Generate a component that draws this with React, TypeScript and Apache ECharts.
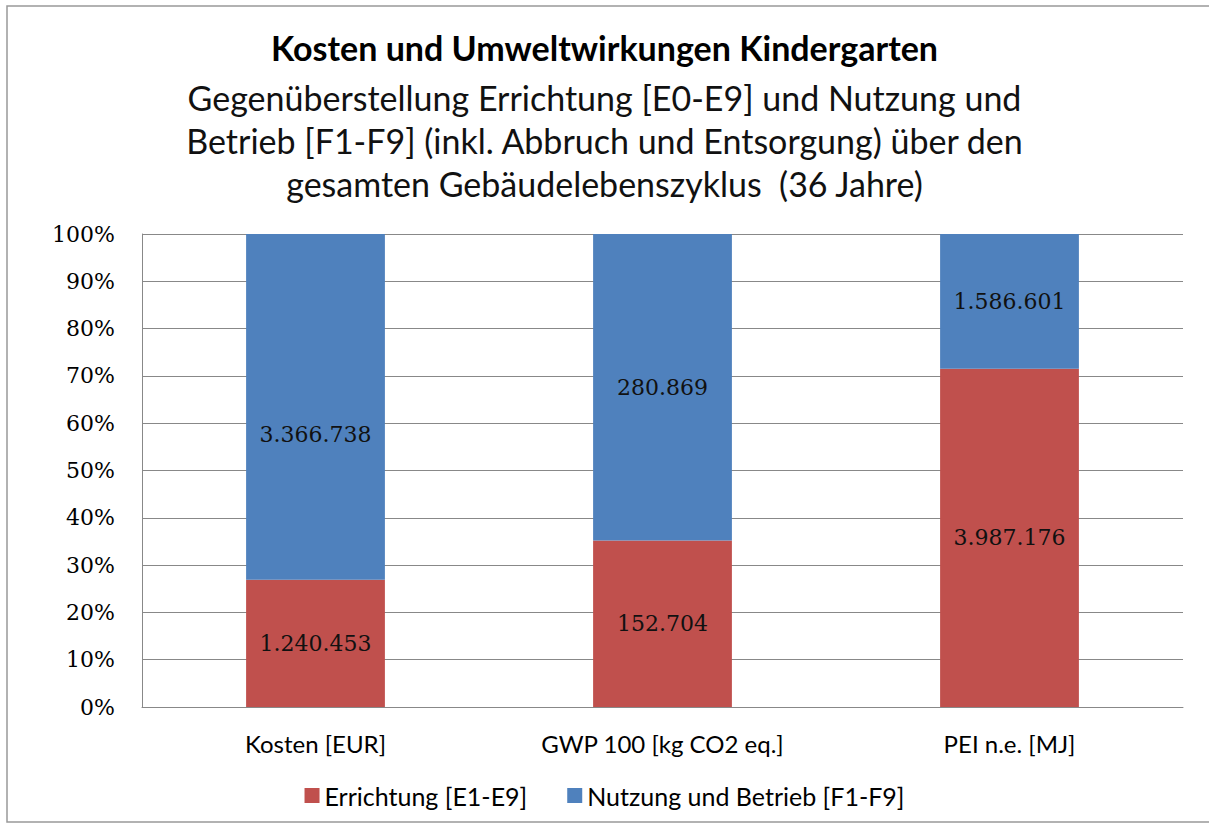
import React, { useEffect, useRef } from "react";
import * as echarts from "echarts";

const categories = ["Kosten [EUR]", "GWP 100 [kg CO2 eq.]", "PEI n.e. [MJ]"];
const errichtung = [1240453, 152704, 3987176];
const nutzung = [3366738, 280869, 1586601];
const seriesNames = ["Errichtung [E1-E9]", "Nutzung und Betrieb [F1-F9]"];
const yTicks = [0, 10, 20, 30, 40, 50, 60, 70, 80, 90, 100];

const titleText = "Kosten und Umweltwirkungen Kindergarten";
const subtitleLines = [
  "Gegenüberstellung Errichtung [E0-E9] und Nutzung und",
  "Betrieb [F1-F9] (inkl. Abbruch und Entsorgung) über den",
  "gesamten Gebäudelebenszyklus  (36 Jahre)",
];

const fmt = (n: number) => String(n).replace(/\B(?=(\d{3})+(?!\d))/g, ".");

export default function App() {
  const ref = useRef<HTMLDivElement>(null);
  useEffect(() => {
    if (!ref.current) return;
    const chart = echarts.init(ref.current, null, { renderer: "svg" });
    const totals = errichtung.map((v, i) => v + nutzung[i]);
    const sansFont = "Lato";
    const serifFont = "DejaVu Serif";
    const labelStyle = {
      show: true,
      position: "inside",
      fontFamily: serifFont,
      fontSize: 22,
      color: "#111",
    };
    chart.setOption({
      animation: false,
      backgroundColor: "#fff",
      title: [
        {
          text: titleText,
          left: "center",
          top: 25,
          textStyle: { fontFamily: sansFont, fontSize: 34, fontWeight: "bold", color: "#000" },
        },
        {
          text: subtitleLines.join("\n"),
          left: "center",
          top: 71,
          textStyle: { fontFamily: sansFont, fontSize: 34, fontWeight: "normal", color: "#111", lineHeight: 43 },
        },
      ],
      graphic: [
        {
          type: "rect",
          shape: { x: 7, y: 6, width: 1215, height: 816 },
          style: { fill: "none", stroke: "#999", lineWidth: 1.5 },
          silent: true,
        },
      ],
      legend: {
        bottom: 17,
        left: "center",
        itemWidth: 15,
        itemHeight: 15,
        itemGap: 40,
        icon: "rect",
        textStyle: { fontFamily: sansFont, fontSize: 25, color: "#000" },
        data: seriesNames,
      },
      grid: { left: 142, right: 26, top: 234, bottom: 123 },
      xAxis: {
        type: "category",
        data: categories,
        axisLine: { show: true, lineStyle: { color: "#888" } },
        axisTick: { show: false },
        axisLabel: { fontFamily: sansFont, fontSize: 24, color: "#000", margin: 24 },
      },
      yAxis: {
        type: "value",
        min: 0,
        max: 100,
        interval: 10,
        axisLine: { show: true, lineStyle: { color: "#888" } },
        axisTick: { show: false },
        splitLine: { show: true, lineStyle: { color: "#888", width: 1 } },
        axisLabel: {
          fontFamily: serifFont,
          fontSize: 22,
          color: "#000",
          margin: 27,
          formatter: (v: number) => (yTicks.includes(v) ? v + "%" : ""),
        },
      },
      series: [
        {
          name: seriesNames[0],
          type: "bar",
          stack: "total",
          barWidth: "40%",
          itemStyle: { color: "#C0504D" },
          data: errichtung.map((v, i) => ({ value: (v / totals[i]) * 100 })),
          label: { ...labelStyle, formatter: (p: any) => fmt(errichtung[p.dataIndex]) },
        },
        {
          name: seriesNames[1],
          type: "bar",
          stack: "total",
          barWidth: "40%",
          itemStyle: { color: "#4F81BD" },
          data: nutzung.map((v, i) => ({
            value: (v / totals[i]) * 100,
            label: i === 0 ? { offset: [0, 28] } : undefined,
          })),
          label: { ...labelStyle, formatter: (p: any) => fmt(nutzung[p.dataIndex]) },
        },
      ],
    });
    return () => chart.dispose();
  }, []);
  return (
    <div
      ref={ref}
      style={{ position: "absolute", left: 0, top: 0, width: 1209, height: 830 }}
    />
  );
}
